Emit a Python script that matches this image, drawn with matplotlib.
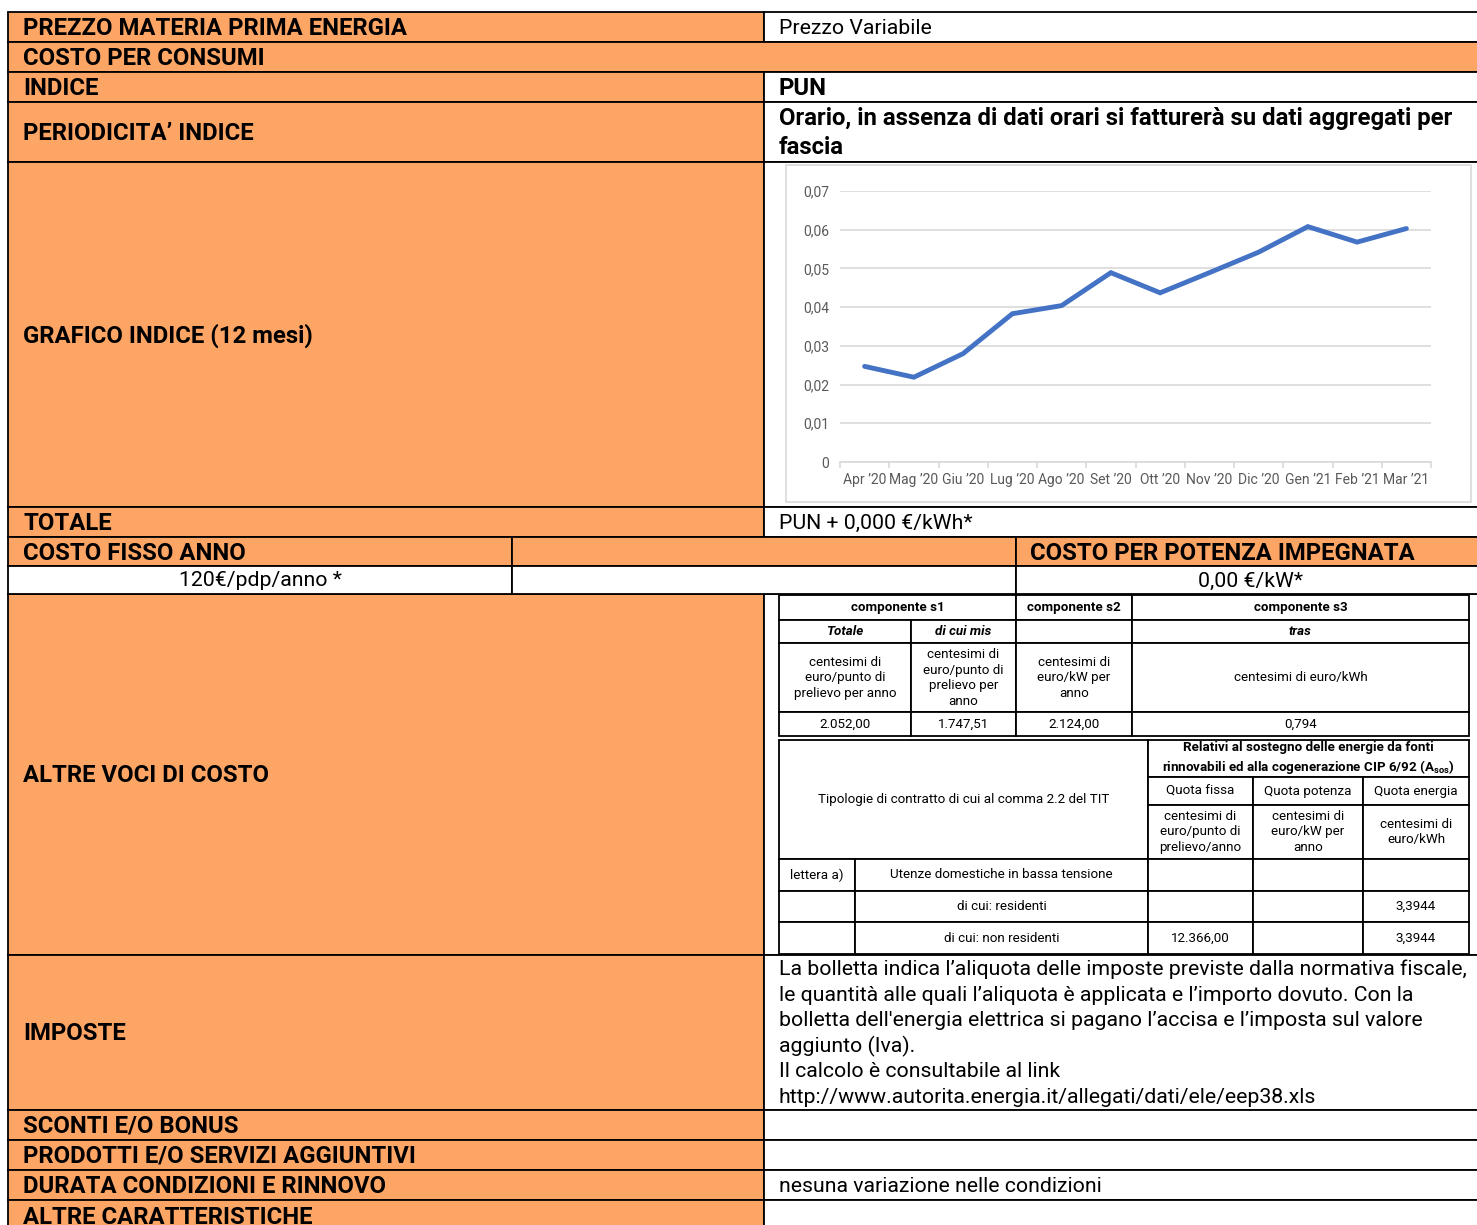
import matplotlib.pyplot as plt
from matplotlib.patches import Rectangle

plt.rcParams['font.family'] = ['Roboto', 'DejaVu Sans']
plt.rcParams['mathtext.fontset'] = 'custom'
plt.rcParams['mathtext.rm'] = 'Roboto'
plt.rcParams['mathtext.bf'] = 'Roboto:bold'

W, H = 1477, 1225
ORANGE = '#FDA565'
LW = 1.3
BOLD_FS = 17.2
REG_FS = 15.3

# ---- data ----
months = ["Apr ’20", "Mag ’20", "Giu ’20", "Lug ’20", "Ago ’20", "Set ’20",
          "Ott ’20", "Nov ’20", "Dic ’20", "Gen ’21", "Feb ’21", "Mar ’21"]
pun_values = [0.0247, 0.0219, 0.0280, 0.0383, 0.0404, 0.0489,
              0.0437, 0.0489, 0.0542, 0.0608, 0.0568, 0.0603]
yticks = [0, 0.01, 0.02, 0.03, 0.04, 0.05, 0.06, 0.07]
ytick_labels = ["0", "0,01", "0,02", "0,03", "0,04", "0,05", "0,06", "0,07"]

row_labels = ["PREZZO MATERIA PRIMA ENERGIA", "COSTO PER CONSUMI", "INDICE",
              "PERIODICITA’ INDICE", "GRAFICO INDICE (12 mesi)", "TOTALE",
              "ALTRE VOCI DI COSTO", "IMPOSTE", "SCONTI E/O BONUS",
              "PRODOTTI E/O SERVIZI AGGIUNTIVI", "DURATA CONDIZIONI E RINNOVO",
              "ALTRE CARATTERISTICHE"]

s_header = ["componente s1", "componente s2", "componente s3"]
s_sub = ["Totale", "di cui mis", "", "tras"]
s_units = ["centesimi di\neuro/punto di\nprelievo per anno",
           "centesimi di\neuro/punto di\nprelievo per\nanno",
           "centesimi di\neuro/kW per\nanno",
           "centesimi di euro/kWh"]
s_values = ["2.052,00", "1.747,51", "2.124,00", "0,794"]

asos_title = "Relativi al sostegno delle energie da fonti\nrinnovabili ed alla cogenerazione CIP 6/92 (A$_{\\mathbf{sos}}$)"
asos_quote = ["Quota fissa", "Quota potenza", "Quota energia"]
asos_units = ["centesimi di\neuro/punto di\nprelievo/anno", "centesimi di\neuro/kW per\nanno",
              "centesimi di\neuro/kWh"]
asos_rows = [["lettera a)", "Utenze domestiche in bassa tensione", "", "", ""],
             ["", "di cui: residenti", "", "", "3,3944"],
             ["", "di cui: non residenti", "12.366,00", "", "3,3944"]]

imposte_lines = ["La bolletta indica l’aliquota delle imposte previste dalla normativa fiscale,",
                 "le quantità alle quali l’aliquota è applicata e l’importo dovuto. Con la",
                 "bolletta dell'energia elettrica si pagano l’accisa e l’imposta sul valore",
                 "aggiunto (Iva).",
                 "Il calcolo è consultabile al link",
                 "http://www.autorita.energia.it/allegati/dati/ele/eep38.xls"]

fig = plt.figure(figsize=(W / 100, H / 100), dpi=100)
ax = fig.add_axes([0, 0, 1, 1])
ax.set_xlim(0, W)
ax.set_ylim(H, 0)
ax.axis('off')


def cell(x0, y0, x1, y1, fc='white', lw=LW):
    ax.add_patch(Rectangle((x0, y0), x1 - x0, y1 - y0, facecolor=fc,
                           edgecolor='black', linewidth=lw, zorder=1))


def txt(x, y, s, size=REG_FS, weight='normal', ha='left', style='normal', **kw):
    ax.text(x, y, s, fontsize=size, fontweight=weight, ha=ha, va='center',
            style=style, zorder=3, **kw)


# outer rows
L, M, R = 8, 764, 1480
rows = [12, 42, 72, 102, 162, 507, 537, 566, 594, 955, 1110, 1140, 1170, 1200, 1240]
left_rows = [(0, 1), (1, 2), (2, 3), (3, 4), (4, 5), (5, 6), (8, 9), (9, 10),
             (10, 11), (11, 12), (12, 13), (13, 14)]

for lab, (i, j) in zip(row_labels, left_rows):
    y0, y1 = rows[i], rows[j]
    if lab == "COSTO PER CONSUMI":
        cell(L, y0, R, y1, ORANGE)
    else:
        cell(L, y0, M, y1, ORANGE)
        cell(M, y0, R, y1, 'white')
    # last row is cut by the page edge, as in the original
    yc = (y0 + y1) / 2 + 1.5 if j < 14 else 1217
    txt(23, yc, lab, size=BOLD_FS, weight='bold')

# costo fisso rows
cell(L, rows[6], 512, rows[7], ORANGE)
cell(512, rows[6], 1016, rows[7], ORANGE)
cell(1016, rows[6], R, rows[7], ORANGE)
cell(L, rows[7], 512, rows[8], 'white')
cell(512, rows[7], 1016, rows[8], 'white')
cell(1016, rows[7], R, rows[8], 'white')
txt(23, 553.5, "COSTO FISSO ANNO", size=BOLD_FS, weight='bold')
txt(1030, 553.5, "COSTO PER POTENZA IMPEGNATA", size=BOLD_FS, weight='bold')
txt(260, 581, "120€/pdp/anno *", ha='center')
txt(1250, 581, "0,00 €/kW*", ha='center')

# right column texts
txt(779, 28, "Prezzo Variabile")
txt(779, 88.5, "PUN", size=BOLD_FS, weight='bold')
txt(779, 118.5, "Orario, in assenza di dati orari si fatturerà su dati aggregati per",
    size=BOLD_FS, weight='bold')
txt(779, 147.5, "fascia", size=BOLD_FS, weight='bold')
txt(779, 523, "PUN + 0,000 €/kWh*")
for k, line in enumerate(imposte_lines):
    txt(779, 969.5 + k * 25.6, line)
txt(779, 1186.5, "nesuna variazione nelle condizioni")

# ---- chart ----
ax.add_patch(Rectangle((786, 165), 685, 337, facecolor='white', edgecolor='#D9D9D9',
                       linewidth=1.2, zorder=1))
cx = fig.add_axes([840 / W, 1 - 462 / H, (1431 - 840) / W, (462 - 191) / H])
cx.set_facecolor('none')
cx.plot(range(len(months)), pun_values, color='#4472C4', linewidth=3.5,
        solid_capstyle='round', solid_joinstyle='miter')
cx.set_xlim(-0.5, len(months) - 0.5)
cx.set_ylim(0, 0.07)
cx.set_yticks(yticks)
cx.set_yticklabels(ytick_labels)
cx.set_xticks(range(len(months)))
cx.set_xticklabels(months)
cx.grid(axis='y', color='#D9D9D9', linewidth=1.2)
cx.set_axisbelow(True)
for sp in ['top', 'right', 'left']:
    cx.spines[sp].set_visible(False)
cx.spines['bottom'].set_color('#D9D9D9')
cx.spines['bottom'].set_linewidth(1.2)
cx.tick_params(axis='y', length=0, pad=8, labelsize=10, labelcolor='#595959')
cx.tick_params(axis='x', length=0, pad=8, labelsize=10, labelcolor='#595959')
cx.set_xticks([i - 0.5 for i in range(len(months) + 1)], minor=True)
cx.tick_params(axis='x', which='minor', length=4, color='#D9D9D9', width=1.2)

# ---- inner table s1/s2/s3 ----
c1 = [779, 911, 1016, 1132, 1469]
r1 = [595, 620, 643, 712, 736]
fs = 9.6
ls = 1.25
cell(c1[0], r1[0], c1[2], r1[1])
cell(c1[2], r1[0], c1[3], r1[1])
cell(c1[3], r1[0], c1[4], r1[1])
for k, s in enumerate(s_header):
    a, b = [(c1[0], c1[2]), (c1[2], c1[3]), (c1[3], c1[4])][k]
    txt((a + b) / 2, (r1[0] + r1[1]) / 2, s, size=fs, weight='bold', ha='center')
for k in range(4):
    a, b = c1[k], c1[k + 1]
    cell(a, r1[1], b, r1[2])
    cell(a, r1[2], b, r1[3])
    cell(a, r1[3], b, r1[4])
    txt((a + b) / 2, (r1[1] + r1[2]) / 2, s_sub[k], size=fs, weight='bold', style='italic', ha='center')
    txt((a + b) / 2, (r1[2] + r1[3]) / 2 + 0.5, s_units[k], size=fs, ha='center', linespacing=ls)
    txt((a + b) / 2, (r1[3] + r1[4]) / 2, s_values[k], size=fs, ha='center')

# ---- inner table Asos ----
c2 = [779, 855, 1148, 1253, 1363, 1469]
r2 = [740, 777, 805, 859, 891, 922, 954]
cell(c2[0], r2[0], c2[2], r2[3])
txt((c2[0] + c2[2]) / 2, 800, "Tipologie di contratto di cui al comma 2.2 del TIT", size=fs, ha='center')
cell(c2[2], r2[0], c2[5], r2[1])
txt((c2[2] + c2[5]) / 2, (r2[0] + r2[1]) / 2, asos_title, size=fs, weight='bold', ha='center',
    linespacing=ls)
for k in range(3):
    a, b = c2[k + 2], c2[k + 3]
    cell(a, r2[1], b, r2[2])
    cell(a, r2[2], b, r2[3])
    txt((a + b) / 2, (r2[1] + r2[2]) / 2, asos_quote[k], size=fs, ha='center')
    txt((a + b) / 2, (r2[2] + r2[3]) / 2, asos_units[k], size=fs, ha='center', linespacing=ls)
for i, row in enumerate(asos_rows):
    y0, y1 = r2[3 + i], r2[4 + i]
    for k, s in enumerate(row):
        a, b = c2[k], c2[k + 1]
        cell(a, y0, b, y1)
        txt((a + b) / 2, (y0 + y1) / 2, s, size=fs, ha='center')

fig.savefig('out.png', dpi=100)
